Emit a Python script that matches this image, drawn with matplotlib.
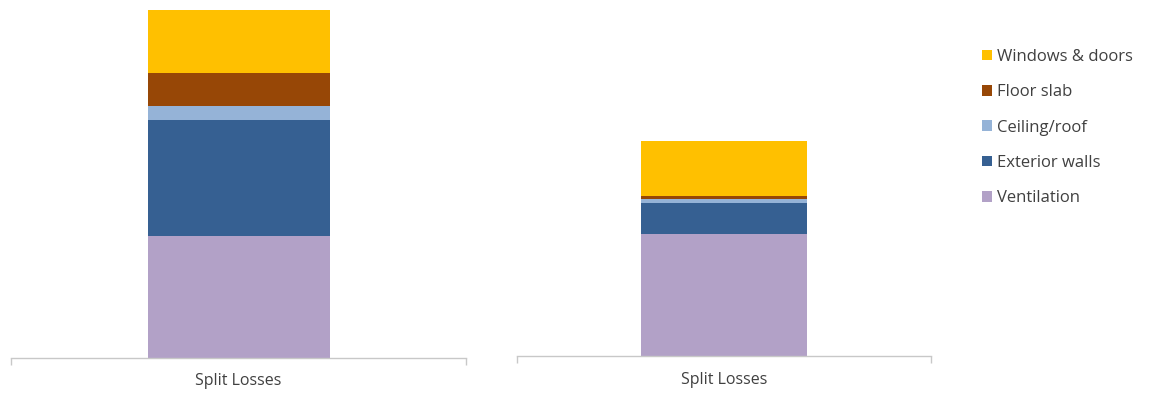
import matplotlib.pyplot as plt
from matplotlib.patches import Patch

plt.rcParams["font.family"] = ["Open Sans", "DejaVu Sans"]

# heat loss components, bottom to top of each stack
components = ["Ventilation", "Exterior walls", "Ceiling/roof", "Floor slab", "Windows & doors"]
colors = ["#B2A1C7", "#366092", "#95B3D7", "#974706", "#FFC000"]
category = "Split Losses"
losses_a = [122, 116, 14, 33, 63]
losses_b = [122, 31, 4, 3.3, 55]

fig = plt.figure(figsize=(11.49, 3.94), dpi=100)
W, H = 1149, 394


def panel(x0, x1, y_base, values):
    top = 5
    ax = fig.add_axes([x0 / W, (H - y_base) / H, (x1 - x0) / W, (y_base - top) / H])
    bottom = 0
    for val, col in zip(values, colors):
        ax.bar([0], [val], width=0.4, bottom=bottom, color=col, linewidth=0)
        bottom += val
    ax.set_xlim(-0.5, 0.5)
    ax.set_ylim(0, y_base - top)
    for s in ["top", "left", "right"]:
        ax.spines[s].set_visible(False)
    ax.spines["bottom"].set_color("#c8c8c8")
    ax.spines["bottom"].set_linewidth(1.0)
    ax.set_yticks([])
    ax.set_xticks([-0.5, 0.5])
    ax.set_xticklabels([])
    ax.tick_params(axis="x", length=5, color="#c8c8c8", width=1.0)
    ax.text(0, -0.045, category, transform=ax.get_xaxis_transform(), ha="center",
            va="top", fontsize=11.5, color="#404040")
    return ax


panel(11, 466, 357.5, losses_a)
panel(517, 931, 356, losses_b)

handles = [Patch(facecolor=c, edgecolor="none") for c in colors][::-1]
fig.legend(handles, components[::-1], loc="upper left",
           bbox_to_anchor=(967 / W, 1 - 34 / H), frameon=False, fontsize=12,
           labelspacing=1.16, handlelength=0.6, handleheight=0.6,
           handletextpad=0.3, labelcolor="#404040")

fig.savefig("out.png", dpi=100, facecolor="white")
